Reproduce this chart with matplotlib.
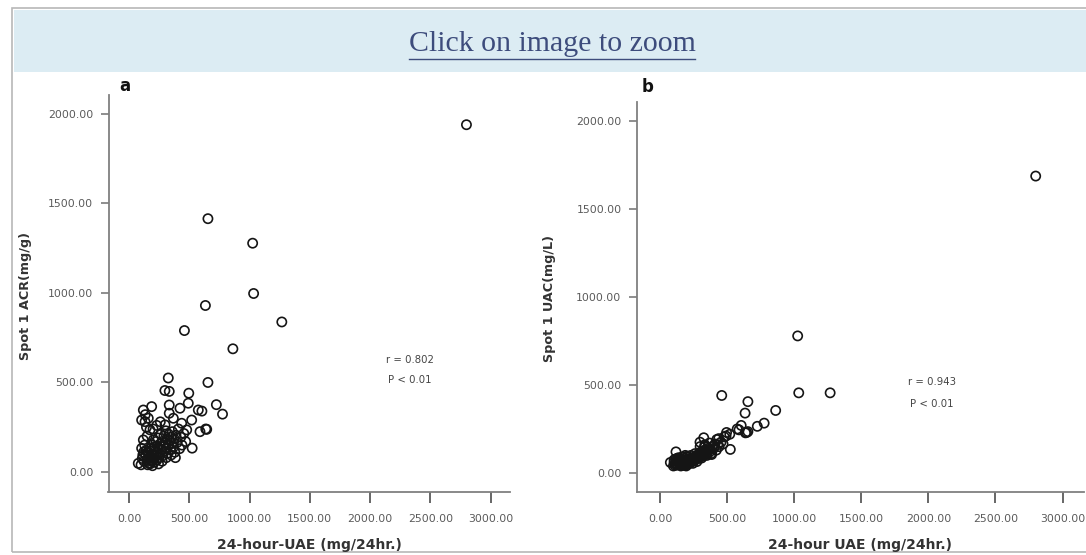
import matplotlib
matplotlib.use("Agg")
import matplotlib.pyplot as plt
from matplotlib.patches import Rectangle
from matplotlib.lines import Line2D

# 24-hour UAE (mg/24hr.) for each patient, with spot 1 ACR (mg/g) and spot 1 UAC (mg/L)
uae = [2800, 655, 1026, 1034, 634, 1268, 460, 862, 655, 326, 298, 334, 496, 725, 776,
       605, 645, 637, 524, 492, 334, 334, 423, 188, 119, 105, 133, 575, 520, 589,
       479, 437, 299, 368, 119, 202, 105, 174, 77,
       140, 150, 160, 165, 170, 180, 185, 190, 195, 200, 205, 210, 215, 220, 225,
       230, 235, 240, 245, 250, 255, 260, 265, 270, 275, 280, 285, 290, 295, 300,
       305, 310, 315, 320, 325, 330, 340, 345, 350, 355, 360, 370, 375, 380, 390,
       400, 410, 420, 430, 440, 455, 470, 150, 130, 125, 155, 175, 195, 145, 160,
       135, 200, 230, 260, 245, 275, 310, 350, 385, 120, 110, 100,
       140, 165, 180, 210, 235, 115, 190]
acr = [1940, 1415, 1278, 997, 930, 838, 790, 688, 500, 525, 455, 450, 440, 376, 323,
       340, 238, 240, 133, 384, 374, 328, 356, 365, 346, 290, 281, 346, 290, 225,
       235, 272, 263, 300, 179, 179, 132, 235, 48,
       95, 70, 110, 50, 130, 85, 60, 150, 100, 75, 120, 55, 140, 95, 170,
       65, 110, 190, 130, 80, 155, 100, 210, 125, 170, 90, 140, 200, 115, 160,
       230, 135, 185, 105, 150, 210, 175, 125, 195, 160, 225, 140, 185, 110, 205,
       165, 240, 130, 195, 150, 215, 170, 200, 150, 60, 40, 45, 35, 250, 300,
       320, 240, 260, 280, 45, 60, 80, 95, 80, 110, 75, 40,
       120, 90, 115, 90, 145, 95, 65]
uac = [1685, 405, 778, 455, 340, 455, 440, 355, 235, 200, 175, 150, 230, 265, 283,
       270, 230, 228, 134, 210, 160, 150, 190, 100, 80, 75, 85, 250, 220, 245,
       205, 195, 150, 170, 120, 95, 60, 90, 60,
       55, 50, 60, 45, 70, 55, 50, 65, 60, 55, 70, 50, 75, 65, 80,
       60, 70, 85, 80, 70, 90, 75, 95, 85, 100, 80, 95, 110, 90, 105,
       120, 100, 115, 95, 110, 125, 120, 105, 130, 125, 140, 120, 135, 110, 150,
       140, 165, 130, 160, 150, 175, 165, 70, 65, 45, 40, 45, 40, 80, 90,
       85, 90, 100, 110, 55, 65, 85, 100, 105, 50, 45, 40,
       60, 55, 75, 60, 80, 55, 45]

x_ticks = [0, 500, 1000, 1500, 2000, 2500, 3000]
y_ticks = [0, 500, 1000, 1500, 2000]

W, H = 1086, 555
fig = plt.figure(figsize=(W / 100, H / 100), dpi=100)
fig.patch.set_facecolor("white")


def px_axes(left, top, right, bottom):
    return fig.add_axes([left / W, 1 - bottom / H, (right - left) / W, (bottom - top) / H])


# page frame and the blue banner
fig.add_artist(Rectangle((12 / W, 1 - 552 / H), 1.1, (552 - 8) / H, transform=fig.transFigure,
                         facecolor="none", edgecolor="#b8b8b8", lw=1.2))
fig.add_artist(Rectangle((14 / W, 1 - 72 / H), 1.1, (72 - 10) / H, transform=fig.transFigure,
                         facecolor="#dcecf3", edgecolor="none"))
banner = fig.text(552 / W, 1 - 44 / H, "Click on image to zoom", ha="center", va="center",
                  fontsize=21.5, family="Liberation Serif", color="#3d4c7c")
fig.canvas.draw()
bb = banner.get_window_extent()
fig.add_artist(Line2D([bb.x0 / W, bb.x1 / W], [1 - 59 / H, 1 - 59 / H],
                      transform=fig.transFigure, color="#3d4c7c", lw=1.0))

panels = [
    dict(box=(108.5, 95, 509.6, 492), xlim=(-170, 3158), ylim=(-112, 2106), y=acr,
         xlabel="24-hour-UAE (mg/24hr.)", ylabel="Spot 1 ACR(mg/g)", letter="a",
         letter_xy=(125, 86), r_text="r = 0.802", r_xy=(410, 360), p_xy=(410, 380),
         ylabel_x=26),
    dict(box=(636.8, 101.7, 1084, 491.7), xlim=(-173, 3160), ylim=(-106, 2107), y=uac,
         xlabel="24-hour UAE (mg/24hr.)", ylabel="Spot 1 UAC(mg/L)", letter="b",
         letter_xy=(648, 87), r_text="r = 0.943", r_xy=(932, 382), p_xy=(932, 404),
         ylabel_x=550),
]

for p in panels:
    ax = px_axes(*p["box"])
    ax.scatter(uae, p["y"], s=44, facecolors="none", edgecolors="#151515", linewidths=1.2,
               zorder=3)
    ax.set_xlim(*p["xlim"])
    ax.set_ylim(*p["ylim"])
    ax.set_xticks(x_ticks)
    ax.set_yticks(y_ticks)
    ax.set_xticklabels([f"{v:.2f}" for v in x_ticks])
    ax.set_yticklabels([f"{v:.2f}" for v in y_ticks])
    ax.patch.set_alpha(0)
    for side in ("top", "right"):
        ax.spines[side].set_visible(False)
    for side in ("left", "bottom"):
        ax.spines[side].set_color("#808080")
        ax.spines[side].set_linewidth(1.3)
    ax.tick_params(axis="x", length=8, width=1.4, color="#666666", pad=8,
                   labelsize=7.8, labelcolor="#5a5a5a")
    ax.tick_params(axis="y", length=6, width=1.1, color="#707070", pad=5,
                   labelsize=7.8, labelcolor="#5a5a5a")
    for lab in ax.get_xticklabels() + ax.get_yticklabels():
        lab.set_family("DejaVu Sans")

    left, top, right, bottom = p["box"]
    fig.text(((left + right) / 2 + 0) / W, 1 - 545 / H, p["xlabel"], ha="center", va="center",
             fontsize=10, fontweight="bold", family="DejaVu Sans", color="#333333")
    fig.text(p["ylabel_x"] / W, 1 - ((top + bottom) / 2 + 2) / H, p["ylabel"], rotation=90,
             ha="center", va="center", fontsize=9.2, fontweight="bold",
             family="DejaVu Sans", color="#333333")
    fig.text(p["letter_xy"][0] / W, 1 - p["letter_xy"][1] / H, p["letter"], ha="center",
             va="center", fontsize=12, fontweight="bold", family="DejaVu Sans",
             color="#111111")
    fig.text(p["r_xy"][0] / W, 1 - p["r_xy"][1] / H, p["r_text"], ha="center", va="center",
             fontsize=7.3, family="DejaVu Sans", color="#444444")
    fig.text(p["p_xy"][0] / W, 1 - p["p_xy"][1] / H, "P < 0.01", ha="center", va="center",
             fontsize=7.3, family="DejaVu Sans", color="#444444")

fig.savefig("out.png", dpi=100)
